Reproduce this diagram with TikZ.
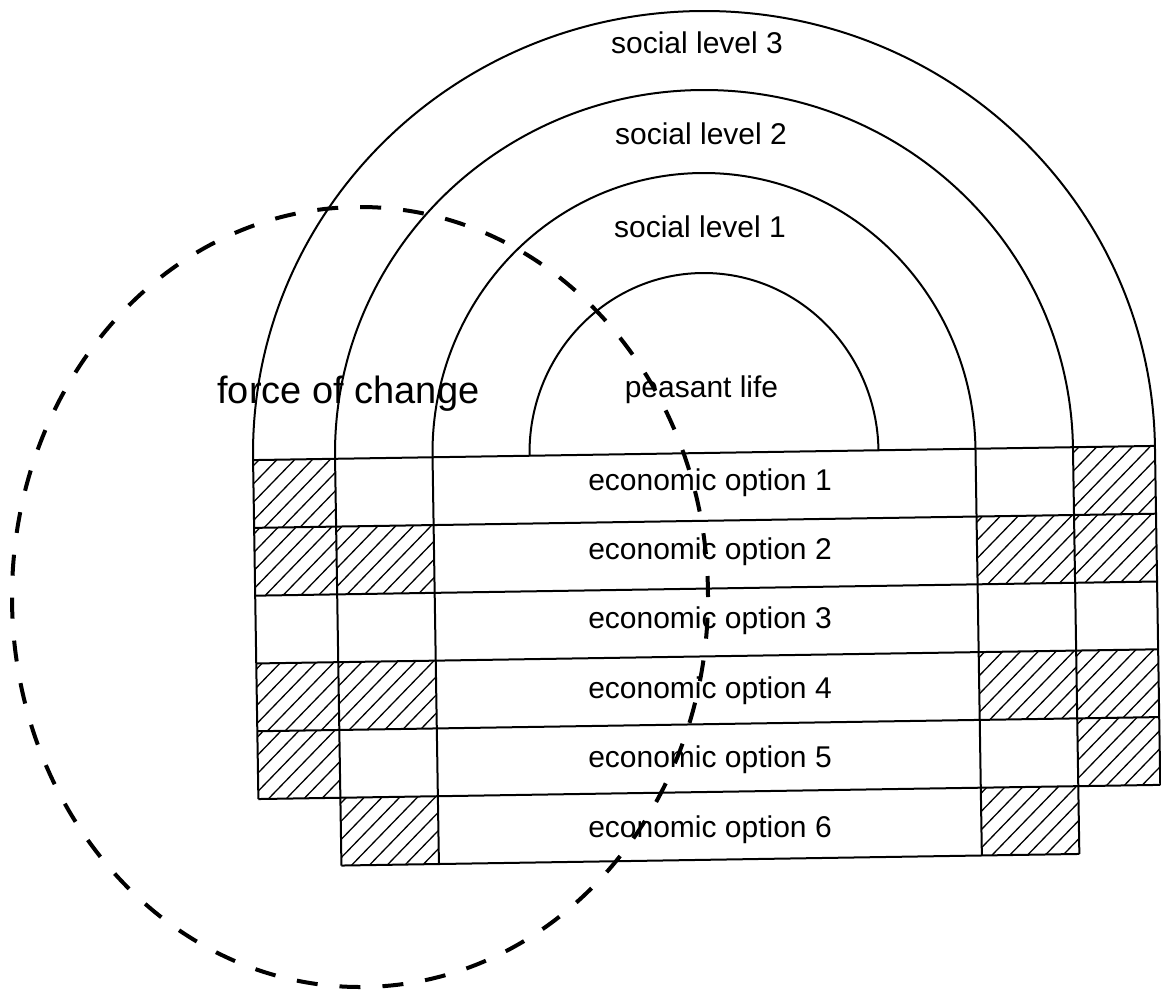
\documentclass[tikz,border=0pt]{standalone}
\usepackage{fontspec}
\setmainfont{Liberation Sans}
\begin{document}
\begin{tikzpicture}[x=0.5pt,y=-0.5pt,
  frame/.style={line width=1pt, line join=miter},
  hatchline/.style={line width=0.65pt},
  lbl/.style={font=\fontsize{15}{18}\selectfont, inner sep=0pt},
  forcelbl/.style={font=\fontsize{19}{23}\selectfont, inner sep=0pt},
  changeline/.style={line width=2pt, dash pattern=on 10.5pt off 11pt}]
\useasboundingbox (0,0) rectangle (1161,990);
\begin{scope}[rotate around={0.9:(704,453)}]
  % hatched cells
  \foreach \xa/\xb/\ya/\yb in {
      253/335/453/520.8, 1073/1155/453/520.8,
      253/335/520.8/588.6, 335/432.5/520.8/588.6, 975.5/1073/520.8/588.6, 1073/1155/520.8/588.6,
      253/335/656.4/724.2, 335/432.5/656.4/724.2, 975.5/1073/656.4/724.2, 1073/1155/656.4/724.2,
      253/335/724.2/792, 1073/1155/724.2/792,
      335/432.5/792/859.8, 975.5/1073/792/859.8} {
    \begin{scope}
      \clip (\xa,\ya) rectangle (\xb,\yb);
      \foreach \k in {0,...,10}
        \draw[hatchline] ({\xa-80+18*\k},\yb) -- ++(90,-90);
    \end{scope}
  }
  % horizontal lines of the rows
  \foreach \y in {453,520.8,588.6,656.4,724.2,792}
    \draw[frame] (253,\y) -- (1155,\y);
  \draw[frame] (335,859.8) -- (1073,859.8);
  % vertical lines
  \draw[frame] (253,453) -- (253,792);
  \draw[frame] (1155,453) -- (1155,792);
  \foreach \x in {335,432.5,975.5,1073}
    \draw[frame] (\x,453) -- (\x,859.8);
  % arcs
  \draw[frame] (529.5,453) arc[start angle=180,end angle=0,x radius=87.25pt,y radius=90pt];
  \draw[frame] (432.5,453) arc[start angle=180,end angle=0,x radius=135.75pt,y radius=140pt];
  \draw[frame] (335,453) arc[start angle=180,end angle=0,x radius=184.5pt,y radius=181.5pt];
  \draw[frame] (253,453) arc[start angle=180,end angle=0,x radius=225.5pt,y radius=221pt];
\end{scope}
% labels
\node[lbl, anchor=base] (s3) at (697,54) {social level 3};
\node[lbl, anchor=base] (s2) at (701,144) {social level 2};
\node[lbl, anchor=base] (s1) at (700,237.7) {social level 1};
\node[lbl, anchor=base] (pl) at (701.5,397) {peasant life};
\node[forcelbl, anchor=base west] (fc) at (217,403) {force of change};
\node[lbl, anchor=base] (e1) at (710,490.5) {economic option 1};
\node[lbl, anchor=base] (e2) at (710,559) {economic option 2};
\node[lbl, anchor=base] (e3) at (710,628.5) {economic option 3};
\node[lbl, anchor=base] (e4) at (710,698) {economic option 4};
\node[lbl, anchor=base] (e5) at (710,767.5) {economic option 5};
\node[lbl, anchor=base] (e6) at (710,837) {economic option 6};
% force of change
\draw[changeline] (360,597) ellipse[x radius=174pt, y radius=195pt];
\end{tikzpicture}
\end{document}
